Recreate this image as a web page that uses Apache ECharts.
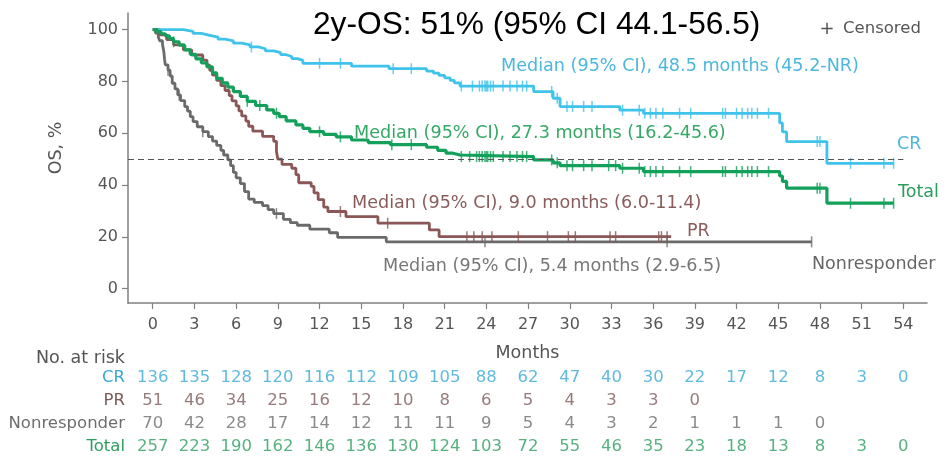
<!DOCTYPE html>
<html><head><meta charset="utf-8">
<script src="https://cdn.jsdelivr.net/npm/echarts@6/dist/echarts.min.js"></script>
<style>html,body{margin:0;padding:0;background:#fff}#c{width:948px;height:462px}</style>
</head><body><div id="c"></div>
<script>
// ---------- data ----------
const monthTicks = [0,3,6,9,12,15,18,21,24,27,30,33,36,39,42,45,48,51,54];
const yTicks = [0,20,40,60,80,100];
const groups = ['CR','PR','Nonresponder','Total'];

const crCurve = [[0,100],[2.2,99.3],[2.9,98.5],[3.5,97.8],[4.1,97.1],[4.7,96.3],[5.2,95.6],[5.8,94.8],[6.4,94.1],[7.0,93.3],[7.6,92.6],[8.1,91.8],[8.7,91.1],[9.2,90.3],[9.6,89.6],[10.0,88.8],[10.4,88.1],[10.8,87.0],[14.3,85.9],[17.0,84.9],[19.7,84.0],[20.2,83.2],[20.6,82.3],[21.0,81.4],[21.4,80.4],[21.7,79.4],[22.1,78.2],[27.4,76.1],[28.8,73.5],[29.3,70.3],[33.6,68.9],[35.3,67.7],[45.1,64.0],[45.3,60.5],[45.6,56.8],[48.5,48.4],[53.3,48.4]];
const prCurve = [[0,100],[0.5,98],[1.0,96.1],[1.5,94.1],[2.2,92.2],[2.8,90.2],[3.6,88.2],[3.9,86.3],[4.1,84.3],[4.3,82.4],[4.6,80.4],[4.9,78.4],[5.2,76.5],[5.5,74.5],[5.7,72.5],[6.0,70.6],[6.2,68.6],[6.4,66.7],[6.7,64.7],[6.9,62.7],[7.2,60.8],[7.9,58.8],[8.7,56.9],[8.9,53.0],[9.0,50.0],[9.3,48.0],[10.0,46.5],[10.3,44.0],[10.5,40.9],[11.4,39.5],[11.6,37.0],[11.9,34.4],[12.3,31.5],[12.6,29.8],[13.9,27.8],[16.2,25.3],[19.9,22.7],[20.6,20.1],[37.3,20.1]];
const nrCurve = [[0,100],[0.2,98.6],[0.4,97.1],[0.5,95.7],[0.7,94.3],[0.75,92.9],[0.8,91.4],[0.85,88.6],[0.9,86.4],[1.1,84.3],[1.25,82.1],[1.4,79.3],[1.6,77.1],[1.8,74.8],[2.0,72.6],[2.3,70.3],[2.5,68.5],[2.7,66.4],[2.9,64.5],[3.2,62.5],[3.6,60.6],[4.0,58.7],[4.3,57.0],[4.6,55.3],[4.9,53.4],[5.1,51.6],[5.4,49.7],[5.6,47.5],[5.8,44.9],[6.0,42.8],[6.3,40.6],[6.6,37.5],[6.9,34.6],[7.3,33.3],[7.9,32.1],[8.3,30.5],[8.7,29.0],[9.4,26.8],[9.9,25.5],[10.4,24.5],[11.3,23.0],[12.7,21.6],[13.3,19.8],[16.8,18.1],[47.4,18.1]];
const totalCurve = [[0,100],[0.3,99.2],[0.6,98.4],[0.9,97.6],[1.2,96.5],[1.5,95.3],[1.9,94.0],[2.3,92.2],[2.7,90.4],[3.1,88.7],[3.5,87.1],[3.9,85.6],[4.3,83.3],[4.6,81.2],[5.0,79.4],[5.4,77.8],[5.8,76.1],[6.3,74.2],[6.8,72.3],[7.4,70.7],[8.2,69.0],[8.7,67.7],[9.1,66.4],[9.6,64.8],[10.3,63.2],[10.8,61.9],[11.3,60.6],[12.3,59.6],[13.2,58.6],[14.3,57.4],[15.5,56.4],[17.1,55.6],[19.7,54.6],[20.5,53.4],[21.1,52.3],[21.6,51.6],[22.1,51.0],[27.4,49.7],[28.8,48.6],[29.3,47.5],[33.6,46.5],[35.3,45.2],[45.1,43.5],[45.3,41.4],[45.6,38.8],[48.5,33.0],[53.3,33.0]];

const crCensor = [7.1,12.0,13.5,17.3,18.6,22.2,23.0,23.5,23.7,23.9,24.0,24.1,24.3,24.5,25.2,25.7,26.2,26.6,26.9,28.7,29.1,29.8,30.2,31.0,31.6,33.8,35.0,35.4,35.8,36.2,36.7,37.9,38.7,41.0,41.2,42.0,42.4,42.8,43.1,43.5,44.3,47.8,48.0,50.2,52.6,53.3];
const prCensor = [13.5,16.9,22.6,23.1,23.7,24.4,26.3,28.4,29.9,30.4,32.9,33.3,36.4,36.6,37.0];
const nrCensor = [1.1,1.9,3.6,8.9,23.9,37.0,47.4];
const totalCensor = [1.5,6.8,7.7,8.9,12.0,13.5,17.2,18.6,22.2,22.8,23.3,23.5,23.7,23.9,24.0,24.1,24.3,24.5,25.2,25.7,26.2,26.6,26.9,28.7,29.1,29.8,30.2,31.0,31.6,32.8,33.3,33.8,35.0,35.4,35.8,36.2,36.7,37.9,38.7,41.0,41.2,42.0,42.4,42.8,43.1,43.5,44.3,47.8,48.0,50.2,52.6,53.3];

const riskCR = [136,135,128,120,116,112,109,105,88,62,47,40,30,22,17,12,8,3,0];
const riskPR = [51,46,34,25,16,12,10,8,6,5,4,3,3,0];
const riskNR = [70,42,28,17,14,12,11,11,9,5,4,3,2,1,1,1,0];
const riskTotal = [257,223,190,162,146,136,130,124,103,72,55,46,35,23,18,13,8,3,0];

// ---------- styling ----------
const C = {cr:'#3fc3ea', pr:'#8a5656', nr:'#6a6a6a', total:'#12a05a'};
const T = {cr:'#37a9d4', pr:'#7b5a5a', nr:'#6d6d6d', total:'#2d9e5e'};
const FONT = 'DejaVu Sans';
const XMIN = -1.78, XMAX = 55.7;

function survAt(curve, t){ let s = curve[0][1]; for (const p of curve){ if (p[0] <= t) s = p[1]; else break; } return s; }
function censorData(curve, times){ return times.map(t => [t, survAt(curve, t)]); }
function lineSeries(name, curve, color, w){
  return {name, type:'line', step:'end', data:curve, xAxisIndex:0, yAxisIndex:0, symbol:'none',
    lineStyle:{color, width:w}, z:3, animation:false};
}
function censorSeries(name, curve, times, color){
  return {name:name+' censored', type:'scatter', data:censorData(curve, times), xAxisIndex:0, yAxisIndex:0,
    symbol:'rect', symbolSize:[1.5, 11], itemStyle:{color}, z:4, animation:false};
}
function riskSeries(row, vals, color){
  return {type:'scatter', xAxisIndex:1, yAxisIndex:1, symbolSize:1, itemStyle:{color:'rgba(0,0,0,0)'},
    data: vals.map((v,i) => [monthTicks[i], row, v]),
    label:{show:true, position:'inside', formatter:p => p.value[2], color, fontFamily:FONT, fontSize:16.5},
    animation:false};
}

const chart = echarts.init(document.getElementById('c'), null, {renderer:'canvas'});
const axisGrey = '#808080';
chart.setOption({
  backgroundColor:'#fff',
  animation:false,
  grid:[
    {left:128, top:13, width:799, height:290},
    {left:128, top:366.5, width:799, height:92}
  ],
  xAxis:[
    {type:'value', gridIndex:0, min:XMIN, max:XMAX,
      axisLine:{show:true, onZero:false, lineStyle:{color:axisGrey, width:1.5}},
      axisTick:{show:true, customValues:monthTicks, length:6, lineStyle:{color:axisGrey, width:1.2}},
      axisLabel:{customValues:monthTicks, margin:14, color:'#555', fontFamily:FONT, fontSize:16},
      splitLine:{show:false},
      name:'Months', nameLocation:'middle', nameGap:41,
      nameTextStyle:{color:'#555', fontFamily:FONT, fontSize:17.5}},
    {type:'value', gridIndex:1, min:XMIN, max:XMAX, show:false}
  ],
  yAxis:[
    {type:'value', gridIndex:0, min:-5.5, max:106.4,
      axisLine:{show:true, onZero:false, lineStyle:{color:axisGrey, width:1.5}},
      axisTick:{show:true, customValues:yTicks, length:6, lineStyle:{color:axisGrey, width:1.2}},
      axisLabel:{customValues:yTicks, margin:10, color:'#555', fontFamily:FONT, fontSize:16},
      splitLine:{show:false}},
    {type:'category', gridIndex:1, data:groups, inverse:true,
      axisLine:{show:false}, axisTick:{show:false},
      axisLabel:{margin:3, fontFamily:FONT, fontSize:16.5,
        color:(v) => ({CR:T.cr, PR:T.pr, Nonresponder:T.nr, Total:T.total})[v]}}
  ],
  series:[
    lineSeries('Nonresponder', nrCurve, C.nr, 2.8),
    censorSeries('Nonresponder', nrCurve, nrCensor, C.nr),
    lineSeries('PR', prCurve, C.pr, 2.8),
    censorSeries('PR', prCurve, prCensor, C.pr),
    lineSeries('CR', crCurve, C.cr, 2.8),
    censorSeries('CR', crCurve, crCensor, C.cr),
    Object.assign(lineSeries('Total', totalCurve, C.total, 3.2), {
      markLine:{silent:true, symbol:['none','none'], label:{show:false},
        lineStyle:{type:[6,4], color:'#555', width:1},
        data:[[{coord:[XMIN,50]},{coord:[54,50]}]]}
    }),
    censorSeries('Total', totalCurve, totalCensor, C.total),
    riskSeries('CR', riskCR, T.cr),
    riskSeries('PR', riskPR, T.pr),
    riskSeries('Nonresponder', riskNR, T.nr),
    riskSeries('Total', riskTotal, T.total)
  ],
  graphic:[
    {type:'text', left:313, top:9, style:{text:'2y-OS: 51% (95% CI 44.1-56.5)', fill:'#000', font:'31.7px "Liberation Sans"'}},
    {type:'text', x:827, y:29, style:{text:'+', fill:'#555', font:'18px '+FONT, textAlign:'center', textVerticalAlign:'middle'}},
    {type:'text', x:843, y:29, style:{text:'Censored', fill:'#555', font:'16.5px '+FONT, textVerticalAlign:'middle'}},
    {type:'text', x:501, y:66, style:{text:'Median (95% CI), 48.5 months (45.2-NR)', fill:'#4cb8dc', font:'17.6px '+FONT, textVerticalAlign:'middle'}},
    {type:'text', x:354, y:133, style:{text:'Median (95% CI), 27.3 months (16.2-45.6)', fill:'#36a865', font:'17.6px '+FONT, textVerticalAlign:'middle'}},
    {type:'text', x:352, y:203, style:{text:'Median (95% CI), 9.0 months (6.0-11.4)', fill:'#8a5c5c', font:'17.6px '+FONT, textVerticalAlign:'middle'}},
    {type:'text', x:383, y:266, style:{text:'Median (95% CI), 5.4 months (2.9-6.5)', fill:'#777', font:'17.6px '+FONT, textVerticalAlign:'middle'}},
    {type:'text', x:687, y:231, style:{text:'PR', fill:'#8a5c5c', font:'17.5px '+FONT, textVerticalAlign:'middle'}},
    {type:'text', x:812, y:264, style:{text:'Nonresponder', fill:'#666', font:'17.5px '+FONT, textVerticalAlign:'middle'}},
    {type:'text', x:897, y:144, style:{text:'CR', fill:'#4cb8dc', font:'17.5px '+FONT, textVerticalAlign:'middle'}},
    {type:'text', x:898, y:192, style:{text:'Total', fill:'#2a9d5c', font:'17.5px '+FONT, textVerticalAlign:'middle'}},
    {type:'text', x:56, y:148, rotation:Math.PI/2, style:{text:'OS, %', fill:'#555', font:'17.5px '+FONT, textAlign:'center', textVerticalAlign:'middle'}},
    {type:'text', x:125, y:358, style:{text:'No. at risk', fill:'#555', font:'17.5px '+FONT, textAlign:'right', textVerticalAlign:'middle'}}
  ]
});
</script>
</body></html>
